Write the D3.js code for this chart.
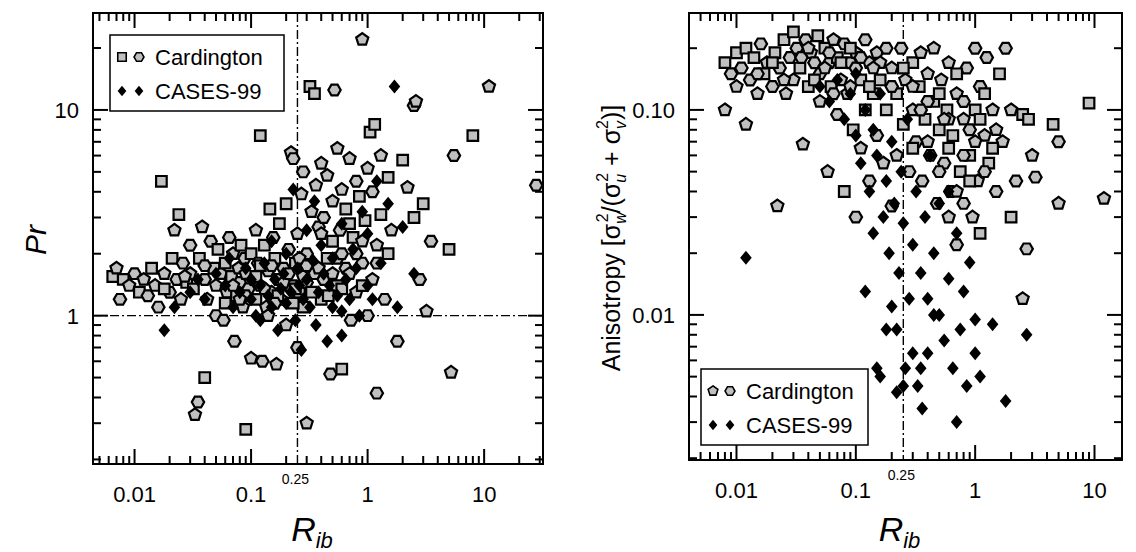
<!DOCTYPE html>
<html><head><meta charset="utf-8">
<script src="https://cdn.jsdelivr.net/npm/d3@7"></script>
<style>body{margin:0;background:#fff}svg{font-family:"Liberation Sans",Arial,sans-serif}</style>
</head><body>
<script>
// Left panel: Prandtl number vs bulk Richardson number
var prCardington = [[0.0065,1.55],[0.007,1.7],[0.0075,1.2],[0.008,1.5],[0.009,1.4],[0.01,1.6],[0.011,1.3],[0.012,1.5],[0.013,1.25],[0.014,1.7],[0.015,1.4],[0.016,1.1],[0.017,4.5],[0.018,1.6],[0.02,1.3],[0.021,1.9],[0.022,2.6],[0.023,1.5],[0.024,3.1],[0.025,1.2],[0.026,1.8],[0.028,1.45],[0.03,1.6],[0.03,2.2],[0.032,1.35],[0.033,0.33],[0.035,0.38],[0.036,1.9],[0.038,2.7],[0.04,1.5],[0.04,0.5],[0.042,1.2],[0.045,2.3],[0.048,1.7],[0.05,1.4],[0.05,1.0],[0.052,2.1],[0.055,1.6],[0.058,0.95],[0.06,1.8],[0.062,1.3],[0.065,2.4],[0.068,1.55],[0.07,2.0],[0.072,0.75],[0.075,1.25],[0.078,1.7],[0.08,1.45],[0.082,2.2],[0.085,1.1],[0.088,1.9],[0.09,0.28],[0.09,1.6],[0.095,1.35],[0.1,2.0],[0.1,0.62],[0.105,1.5],[0.11,1.2],[0.11,2.6],[0.115,1.8],[0.12,7.5],[0.12,1.4],[0.125,0.6],[0.13,2.2],[0.135,1.1],[0.14,1.65],[0.145,3.3],[0.15,1.3],[0.155,2.4],[0.16,1.9],[0.165,0.58],[0.17,1.5],[0.175,2.8],[0.18,1.2],[0.19,1.7],[0.2,3.5],[0.2,0.9],[0.21,2.1],[0.22,1.4],[0.22,6.2],[0.23,5.8],[0.24,1.8],[0.25,2.5],[0.25,0.7],[0.26,1.3],[0.27,3.9],[0.28,5.0],[0.28,1.1],[0.3,0.3],[0.3,2.0],[0.32,13],[0.33,3.2],[0.35,1.6],[0.35,12],[0.36,4.3],[0.38,2.7],[0.4,1.2],[0.4,5.5],[0.42,3.0],[0.45,1.9],[0.45,4.8],[0.48,0.52],[0.5,2.3],[0.5,3.6],[0.52,12.5],[0.55,1.4],[0.55,6.5],[0.58,2.6],[0.6,0.55],[0.6,4.1],[0.65,1.7],[0.65,3.3],[0.7,5.8],[0.72,0.95],[0.75,2.4],[0.8,1.3],[0.8,4.5],[0.85,3.8],[0.9,22],[0.9,1.8],[0.95,2.9],[1.0,5.2],[1.0,1.0],[1.05,7.8],[1.1,1.5],[1.1,4.0],[1.15,8.5],[1.2,2.2],[1.2,0.42],[1.3,3.1],[1.3,6.0],[1.4,1.2],[1.5,4.7],[1.6,2.6],[1.8,0.75],[2.0,5.7],[2.2,4.2],[2.5,10.5],[2.5,3.0],[2.6,11],[2.8,1.5],[3.0,3.5],[3.2,1.05],[3.5,2.3],[5,2.1],[5.2,0.53],[5.5,6.0],[8,7.5],[11,13],[28,4.3],
  [0.06,1.15],[0.07,1.4],[0.09,1.25],[0.11,1.55],[0.13,1.35],[0.15,1.75],[0.17,1.25],[0.19,1.45],[0.21,1.6],[0.23,1.15],[0.26,1.9],[0.3,1.45],[0.33,1.3],[0.38,1.7],[0.42,1.5],[0.46,1.25],[0.5,1.6],[0.55,1.9],[0.6,1.35],[0.7,1.6],[0.8,2.0],[0.9,1.4],[0.14,1.0],[0.16,1.15],[0.24,1.35],[0.28,1.55],
  [0.6,2.0],[0.7,2.8],[0.9,2.3],[1.2,1.8],[1.5,2.0],[0.4,2.5],[0.3,1.75],[0.12,1.75],[0.08,1.2],[0.04,1.75],[0.018,1.35],[0.027,1.55]];
var prCases = [[0.018,0.85],[0.022,1.1],[0.03,1.3],[0.035,1.5],[0.04,1.2],[0.05,1.6],[0.06,1.4],[0.065,1.9],[0.07,1.1],[0.08,1.3],[0.09,1.7],[0.1,1.2],[0.1,1.5],[0.11,1.0],[0.12,1.4],[0.13,1.8],[0.14,1.25],[0.15,1.1],[0.15,2.3],[0.16,1.5],[0.17,0.85],[0.18,1.35],[0.19,1.6],[0.2,1.15],[0.2,2.0],[0.22,1.3],[0.23,4.1],[0.24,0.95],[0.25,1.7],[0.26,1.4],[0.27,0.68],[0.28,1.2],[0.3,2.6],[0.3,1.5],[0.32,1.1],[0.34,1.85],[0.36,0.9],[0.38,1.3],[0.4,2.2],[0.42,1.6],[0.45,0.75],[0.47,1.4],[0.5,1.9],[0.5,1.1],[0.55,1.25],[0.6,2.8],[0.6,0.8],[0.65,1.5],[0.7,1.2],[0.75,2.1],[0.8,1.7],[0.85,1.0],[0.9,3.2],[1.0,1.4],[1.0,2.5],[1.1,1.2],[1.2,4.5],[1.3,1.8],[1.5,3.5],[1.7,13],[1.8,1.1],[2.0,2.7],[2.5,1.6],[0.12,0.95],[0.6,1.05],[0.35,3.6]];

// Right panel: anisotropy vs bulk Richardson number
var anCardington = [[0.008,0.17],[0.008,0.1],[0.009,0.15],[0.01,0.19],[0.01,0.13],[0.011,0.16],[0.012,0.2],[0.012,0.085],[0.013,0.14],[0.014,0.18],[0.015,0.12],[0.016,0.21],[0.017,0.15],[0.018,0.17],[0.02,0.13],[0.021,0.19],[0.022,0.034],[0.023,0.16],[0.025,0.22],[0.026,0.12],[0.028,0.18],[0.03,0.24],[0.03,0.14],[0.032,0.2],[0.034,0.16],[0.036,0.068],[0.038,0.22],[0.04,0.13],[0.042,0.19],[0.045,0.17],[0.048,0.23],[0.05,0.11],[0.05,0.15],[0.055,0.2],[0.058,0.05],[0.06,0.17],[0.062,0.13],[0.065,0.22],[0.07,0.095],[0.07,0.18],[0.075,0.14],[0.08,0.21],[0.08,0.04],[0.085,0.12],[0.09,0.17],[0.095,0.08],[0.1,0.19],[0.1,0.03],[0.11,0.14],[0.11,0.065],[0.12,0.22],[0.12,0.1],[0.13,0.17],[0.13,0.045],[0.14,0.12],[0.15,0.19],[0.15,0.075],[0.16,0.14],[0.17,0.055],[0.18,0.2],[0.18,0.1],[0.2,0.16],[0.2,0.034],[0.22,0.12],[0.22,0.06],[0.24,0.2],[0.25,0.085],[0.26,0.14],[0.28,0.05],[0.3,0.17],[0.3,0.1],[0.32,0.07],[0.34,0.13],[0.35,0.19],[0.36,0.045],[0.38,0.09],[0.4,0.15],[0.42,0.06],[0.45,0.11],[0.45,0.2],[0.48,0.035],[0.5,0.08],[0.52,0.14],[0.55,0.055],[0.58,0.1],[0.6,0.17],[0.62,0.04],[0.65,0.075],[0.7,0.12],[0.7,0.022],[0.75,0.05],[0.8,0.09],[0.85,0.16],[0.9,0.06],[0.95,0.03],[1.0,0.2],[1.0,0.1],[1.05,0.045],[1.1,0.13],[1.1,0.025],[1.2,0.075],[1.25,0.18],[1.3,0.055],[1.4,0.1],[1.5,0.04],[1.6,0.15],[1.7,0.07],[1.8,0.2],[2.0,0.03],[2.0,0.1],[2.2,0.045],[2.5,0.095],[2.5,0.012],[2.7,0.021],[2.8,0.09],[3.0,0.06],[3.2,0.047],[4.5,0.085],[5,0.035],[5,0.07],[9,0.108],[12,0.037],
  [0.015,0.15],[0.02,0.17],[0.025,0.14],[0.035,0.18],[0.045,0.14],[0.055,0.16],[0.065,0.12],[0.075,0.17],[0.09,0.13],[0.1,0.16],[0.13,0.13],[0.16,0.17],[0.2,0.13],[0.25,0.16],[0.3,0.13],[0.4,0.11],[0.5,0.12],[0.6,0.09],[0.8,0.11],[1.2,0.12],[1.5,0.08],[0.9,0.08],[0.7,0.15],
  [0.4,0.07],[0.5,0.05],[0.6,0.065],[0.7,0.04],[0.8,0.06],[0.9,0.045],[1.0,0.07],[1.2,0.05],[1.4,0.065],[0.55,0.09],[0.35,0.1],[0.3,0.065],[0.6,0.03],[0.8,0.035],[1.1,0.09],[0.04,0.2],[0.06,0.19],[0.09,0.2],[0.14,0.16],[0.11,0.18]];
var anCases = [[0.012,0.019],[0.05,0.13],[0.06,0.11],[0.07,0.14],[0.08,0.09],[0.09,0.12],[0.1,0.075],[0.1,0.15],[0.11,0.055],[0.12,0.1],[0.12,0.013],[0.13,0.04],[0.14,0.08],[0.14,0.025],[0.15,0.0055],[0.15,0.06],[0.16,0.12],[0.16,0.005],[0.17,0.03],[0.18,0.045],[0.18,0.0085],[0.19,0.02],[0.2,0.07],[0.2,0.011],[0.21,0.035],[0.22,0.0085],[0.22,0.0042],[0.23,0.016],[0.24,0.05],[0.25,0.028],[0.26,0.0055],[0.27,0.09],[0.28,0.012],[0.3,0.022],[0.3,0.0065],[0.32,0.04],[0.33,0.0045],[0.35,0.016],[0.35,0.0055],[0.36,0.0035],[0.38,0.03],[0.4,0.0065],[0.4,0.012],[0.42,0.06],[0.45,0.02],[0.5,0.01],[0.5,0.035],[0.55,0.0075],[0.6,0.015],[0.65,0.0055],[0.7,0.025],[0.7,0.003],[0.75,0.0085],[0.8,0.013],[0.85,0.0045],[0.9,0.018],[1.0,0.0065],[1.0,0.0095],[1.1,0.005],[1.4,0.009],[1.8,0.0038],[2.7,0.008],[0.25,0.0045],[0.45,0.01],[0.6,0.04]];

var xMajor = [0.01, 0.1, 1, 10];
var xMajorLabels = ["0.01", "0.1", "1", "10"];
var prMajor = [1, 10], prMajorLabels = ["1", "10"];
var anMajor = [0.01, 0.1], anMajorLabels = ["0.01", "0.10"];
var ribCrit = 0.25;

var svg = d3.select("body").append("svg").attr("width", 1136).attr("height", 552);

function minors(lo, hi) {
    var out = [];
    for (var e = -4; e <= 2; e++)
        for (var m = 1; m < 10; m++) {
            var v = m * Math.pow(10, e);
            if (v > lo && v < hi) out.push(v);
        }
    return out;
}

// pentagon / hexagon / square outlines for Cardington points
var pent = d3.range(5).map(i => [6.4 * Math.sin(i * 2 * Math.PI / 5), -6.4 * Math.cos(i * 2 * Math.PI / 5)]);
var hex = d3.range(6).map(i => [6.2 * Math.cos(i * Math.PI / 3), 6.2 * Math.sin(i * Math.PI / 3)]);
function cardPath(i) {
    if (i % 3 == 0) return "M-5.3,-5.3H5.3V5.3H-5.3Z";
    return "M" + (i % 3 == 1 ? pent : hex).join("L") + "Z";
}
var diamond = "M0,-7L5.8,0L0,7L-5.8,0Z";

function panel(o) {
    var g = svg.append("g");
    var x = d3.scaleLog().domain(o.xd).range([o.l, o.r]);
    var y = d3.scaleLog().domain(o.yd).range([o.b, o.t]);

    // ticks, inward on all four sides
    var xm = minors(o.xd[0], o.xd[1]);
    var ym = minors(o.yd[0], o.yd[1]);
    xm.forEach(v => {
        var maj = xMajor.some(m => Math.abs(m - v) < 1e-9), L = maj ? 15 : 8;
        g.append("line").attr("x1", x(v)).attr("x2", x(v)).attr("y1", o.b).attr("y2", o.b - L).attr("stroke", "#000").attr("stroke-width", 2);
        g.append("line").attr("x1", x(v)).attr("x2", x(v)).attr("y1", o.t).attr("y2", o.t + L).attr("stroke", "#000").attr("stroke-width", 2);
    });
    ym.forEach(v => {
        var maj = o.ymaj.some(m => Math.abs(m - v) < 1e-9), L = maj ? 15 : 8;
        g.append("line").attr("y1", y(v)).attr("y2", y(v)).attr("x1", o.l).attr("x2", o.l + L).attr("stroke", "#000").attr("stroke-width", 2);
        g.append("line").attr("y1", y(v)).attr("y2", y(v)).attr("x1", o.r).attr("x2", o.r - L).attr("stroke", "#000").attr("stroke-width", 2);
    });
    xMajor.forEach((v, i) => {
        if (v < o.xd[1]) g.append("text").attr("x", x(v)).attr("y", o.b + 38).attr("text-anchor", "middle").attr("font-size", 22).text(xMajorLabels[i]);
    });
    o.ymaj.forEach((v, i) => {
        g.append("text").attr("x", o.l - 14).attr("y", y(v) + 8).attr("text-anchor", "end").attr("font-size", 22).text(o.ylab[i]);
    });
    g.append("text").attr("x", x(ribCrit) - 2).attr("y", o.b + 20).attr("text-anchor", "middle").attr("font-size", 14).text("0.25");

    // reference lines
    g.append("line").attr("x1", x(ribCrit)).attr("x2", x(ribCrit)).attr("y1", o.t).attr("y2", o.b)
        .attr("stroke", "#000").attr("stroke-width", 1.4).attr("stroke-dasharray", "9,3,2,3");
    if (o.hline) g.append("line").attr("x1", o.l).attr("x2", o.r).attr("y1", y(o.hline)).attr("y2", y(o.hline))
        .attr("stroke", "#000").attr("stroke-width", 1.4).attr("stroke-dasharray", "9,3,2,3");

    var clip = "clip" + o.l;
    svg.append("clipPath").attr("id", clip).append("rect").attr("x", o.l).attr("y", o.t).attr("width", o.r - o.l).attr("height", o.b - o.t);
    var pts = g.append("g").attr("clip-path", "url(#" + clip + ")");
    pts.selectAll(".c").data(o.card).enter().append("path")
        .attr("d", (d, i) => cardPath(i))
        .attr("transform", d => "translate(" + x(d[0]) + "," + y(d[1]) + ")")
        .attr("fill", "#c0c0c0").attr("stroke", "#000").attr("stroke-width", 2.2);
    pts.selectAll(".k").data(o.cases).enter().append("path")
        .attr("d", diamond)
        .attr("transform", d => "translate(" + x(d[0]) + "," + y(d[1]) + ")")
        .attr("fill", "#000");

    g.append("rect").attr("x", o.l).attr("y", o.t).attr("width", o.r - o.l).attr("height", o.b - o.t)
        .attr("fill", "none").attr("stroke", "#000").attr("stroke-width", 2);

    // legend
    var lg = g.append("g").attr("transform", "translate(" + o.leg[0] + "," + o.leg[1] + ")");
    lg.append("rect").attr("width", o.leg[2]).attr("height", 76).attr("fill", "#fff").attr("stroke", "#000").attr("stroke-width", 1.5);
    [0, 1].forEach(j => {
        lg.append("path").attr("d", cardPath(j == 0 ? o.legShape : 2)).attr("transform", "translate(" + (12 + j * 17) + ",22) scale(0.8)")
            .attr("fill", "#c0c0c0").attr("stroke", "#000").attr("stroke-width", 2);
        lg.append("path").attr("d", diamond).attr("transform", "translate(" + (12 + j * 17) + ",56) scale(0.75)").attr("fill", "#000");
    });
    lg.append("text").attr("x", 45).attr("y", 30).attr("font-size", 22).text("Cardington");
    lg.append("text").attr("x", 45).attr("y", 64).attr("font-size", 22).text("CASES-99");

    // x label
    var xl = g.append("text").attr("x", (o.l + o.r) / 2 - 6).attr("y", 541).attr("text-anchor", "middle").attr("font-size", 34).attr("font-style", "italic");
    xl.append("tspan").text("R");
    xl.append("tspan").attr("font-size", 22).attr("dy", 7).text("ib");
    return g;
}

panel({l: 93, r: 543, t: 13, b: 464, xd: [0.0044, 32], yd: [0.19, 29.6], ymaj: prMajor, ylab: prMajorLabels,
    hline: 1, card: prCardington, cases: prCases, leg: [110, 35, 174], legShape: 0});
panel({l: 689, r: 1122, t: 13, b: 460, xd: [0.004, 17], yd: [0.00196, 0.297], ymaj: anMajor, ylab: anMajorLabels,
    hline: null, card: anCardington, cases: anCases, leg: [701, 369, 167], legShape: 1});

// y labels
svg.append("text").attr("transform", "translate(46,240) rotate(-90)").attr("text-anchor", "middle")
    .attr("font-size", 30).attr("font-style", "italic").text("Pr");
var al = svg.append("text").attr("transform", "translate(620,238) rotate(-90)").attr("text-anchor", "middle").attr("font-size", 25);
al.append("tspan").text("Anisotropy [σ");
al.append("tspan").attr("font-size", 16).attr("font-style", "italic").attr("dy", 6).text("w");
al.append("tspan").attr("font-size", 16).attr("dx", -10).attr("dy", -18).text("2");
al.append("tspan").attr("dy", 12).text("/(σ");
al.append("tspan").attr("font-size", 16).attr("font-style", "italic").attr("dy", 6).text("u");
al.append("tspan").attr("font-size", 16).attr("dx", -8).attr("dy", -18).text("2");
al.append("tspan").attr("dy", 12).text(" + σ");
al.append("tspan").attr("font-size", 16).attr("font-style", "italic").attr("dy", 6).text("v");
al.append("tspan").attr("font-size", 16).attr("dx", -8).attr("dy", -18).text("2");
al.append("tspan").attr("dy", 12).text(")]");
</script>
</body></html>
